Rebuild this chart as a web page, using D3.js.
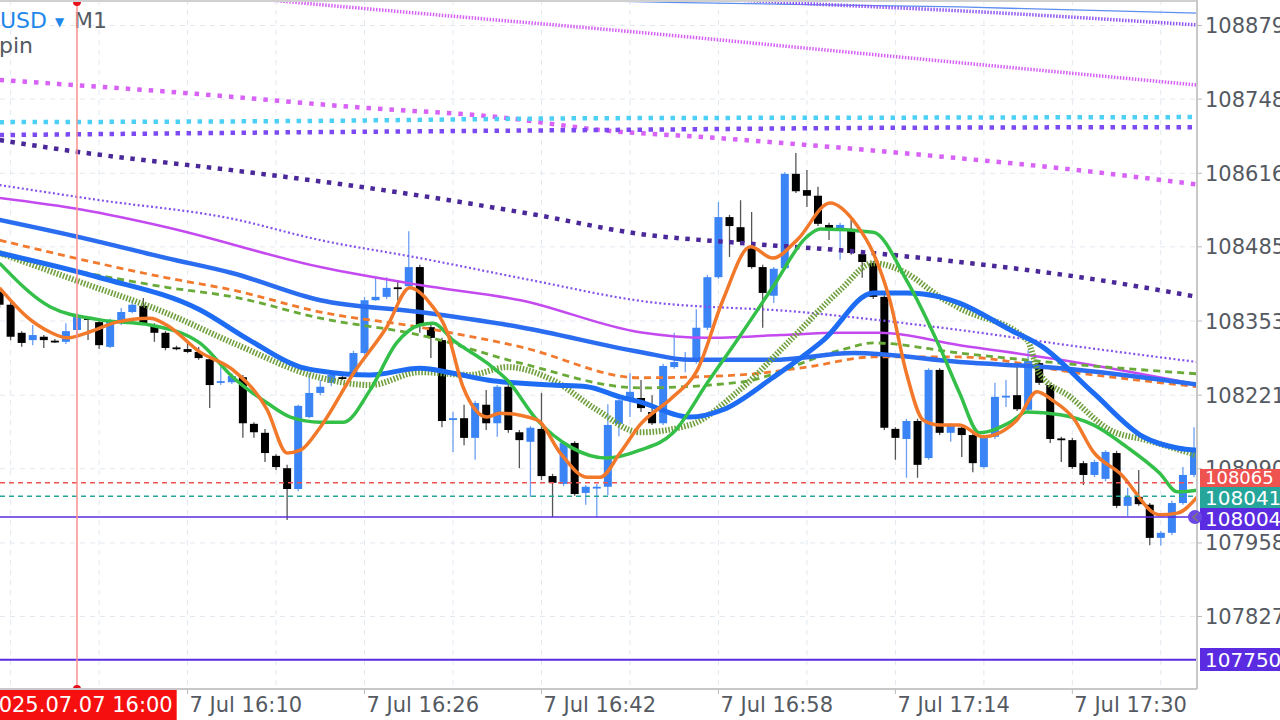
<!DOCTYPE html>
<html><head><meta charset="utf-8">
<script src="https://cdn.jsdelivr.net/npm/d3@7"></script>
<style>html,body{margin:0;padding:0;background:#fff;overflow:hidden}svg{display:block;font-family:"DejaVu Sans",sans-serif}</style>
</head><body><svg id="c" width="1280" height="720"></svg>
<script>
// ---- data ----
const firstMinute = -7; // minutes relative to 2025.07.07 16:00
const openP  = [108405,108382,108332,108319,108325,108318,108316,108337,108358,108351,108307,108349,108369,108380,108346,108332,108306,108303,108298,108285,108243,108244,108253,108170,108154,108113,108091,108054,108182,108225,108243,108253,108257,108296,108390,108396,108413,108415,108449,108342,108319,108179,108180,108145,108204,108171,108236,108155,108138,108161,108077,108063,108136,108047,108056,108058,108170,108212,108216,108191,108171,108271,108282,108280,108341,108431,108538,108520,108483,108449,108398,108447,108615,108586,108576,108524,108515,108517,108472,108456,108396,108161,108143,108175,108109,108266,108154,108163,108150,108093,108147,108218,108221,108195,108278,108239,108144,108141,108100,108079,108072,108118,108024,108040,108026,107967,107976,108029,108079];
const highP  = [108412,108387,108335,108346,108328,108321,108349,108367,108360,108355,108357,108376,108390,108394,108349,108335,108309,108314,108307,108289,108271,108260,108257,108173,108161,108116,108097,108204,108260,108248,108262,108257,108300,108396,108430,108431,108426,108513,108453,108346,108323,108191,108204,108211,108230,108239,108239,108159,108166,108225,108081,108139,108139,108061,108063,108205,108216,108260,108248,108221,108277,108332,108298,108374,108435,108565,108542,108568,108547,108453,108449,108618,108652,108622,108592,108528,108528,108533,108476,108460,108399,108164,108179,108179,108269,108269,108171,108166,108154,108150,108243,108248,108271,108301,108282,108243,108147,108145,108104,108106,108123,108122,108056,108088,108029,107979,108033,108093,108164];
const lowP   = [108376,108319,108307,108310,108305,108314,108312,108323,108319,108303,108305,108346,108367,108346,108316,108301,108301,108296,108284,108198,108239,108241,108145,108145,108102,108088,107999,108050,108180,108221,108237,108248,108253,108293,108389,108392,108390,108412,108332,108287,108164,108120,108132,108106,108159,108147,108154,108091,108040,108070,108004,108059,108042,108026,108004,108043,108148,108182,108191,108168,108168,108268,108262,108277,108337,108428,108467,108490,108446,108341,108385,108444,108581,108556,108522,108497,108462,108471,108430,108392,108159,108106,108074,108074,108106,108150,108138,108111,108084,108090,108143,108200,108193,108191,108239,108136,108102,108090,108061,108075,108068,108020,108006,108024,107954,107953,107972,108026,108075];
const closeP = [108382,108325,108314,108328,108319,108317,108335,108360,108355,108310,108353,108369,108382,108349,108332,108305,108304,108298,108287,108239,108246,108255,108171,108155,108118,108093,108054,108202,108225,108236,108257,108252,108296,108390,108396,108412,108411,108449,108346,108323,108175,108180,108145,108207,108171,108236,108159,108141,108163,108077,108065,108136,108045,108058,108058,108168,108212,108227,108198,108171,108273,108280,108287,108341,108431,108538,108522,108494,108449,108403,108446,108615,108584,108576,108526,108515,108524,108474,108458,108396,108163,108145,108175,108097,108266,108154,108168,108150,108100,108147,108218,108220,108196,108282,108243,108143,108142,108093,108079,108102,108120,108024,108040,108027,107967,107976,108029,108079,108127];

// indicator lines: [minute, price]
const lineBlueThin   = [[40,108926],[53.5,108920],[79.8,108912],[101.3,108901]];
const lineVioletFine = [[56.3,108928],[63.9,108920],[81.9,108903],[101.3,108880]];
const lineMagentaFine= [[13.8,108931],[20.4,108919],[33.7,108896],[47.3,108873],[74.3,108823],[101.3,108773]];
const lineMagentaDot = [[-7,108782],[9.7,108759],[26.3,108732],[38.1,108716],[47.3,108693],[57.7,108679],[68.1,108663],[78.5,108645],[88.9,108625],[101.3,108596]];
const lineCyanDot    = [[-7,108707],[20.2,108709],[47.3,108714],[74.4,108715],[101.3,108716]];
const lineVioletDot  = [[-7,108684],[20.2,108689],[47.3,108693],[74.4,108697],[101.3,108698]];
const lineIndigoDot  = [[-7,108675],[0.1,108654],[13.8,108622],[27.7,108586],[41.5,108542],[50.9,108508],[59.9,108492],[69,108479],[79.8,108458],[90.7,108431],[101.3,108396]];
const linePurpleFine = [[-7,108595],[2.1,108568],[13.8,108536],[22,108497],[31,108465],[41,108426],[50.9,108389],[65.4,108369],[79.8,108337],[90.7,108307],[101.3,108280]];
const lineMagenta    = [[-7,108572],[0.5,108551],[8.1,108520],[22,108449],[31,108417],[40.1,108390],[50.9,108333],[57,108323],[63.6,108328],[69,108332],[72.6,108332],[79.8,108310],[88.9,108284],[101.3,108240]];
const lineBlueSlow   = [[-7,108533],[0.5,108501],[8.1,108465],[14.1,108438],[22,108390],[31,108369],[40.1,108342],[50.9,108298],[55.4,108284],[62.9,108284],[70.2,108296],[79.8,108280],[88.9,108269],[101.3,108240]];
const lineOrangeDash = [[-7,108497],[0.5,108462],[8.1,108430],[14.1,108408],[22,108369],[31,108342],[40.1,108307],[50.9,108252],[59.9,108257],[66,108271],[72,108289],[79.8,108289],[90.7,108260],[101.3,108236]];
const lineGreenDash  = [[-7,108471],[0.5,108440],[8.1,108413],[14.1,108396],[22,108358],[31,108328],[40.1,108278],[50.9,108234],[59.9,108244],[69,108301],[72,108314],[79.8,108296],[88.9,108278],[101.3,108259]];
const lineGreenRib   = [[-7,108474],[0.5,108421],[8.1,108367],[14.1,108314],[22,108252],[26.5,108239],[31,108262],[35.5,108257],[38.9,108271],[43,108248],[47,108195],[50.9,108155],[55.4,108168],[59.9,108230],[64.5,108319],[69,108408],[72,108456],[75,108438],[78,108396],[79.8,108376],[85.9,108319],[87,108260],[89.8,108218],[93.4,108159],[96.7,108141],[101.3,108114]];
const lineBlueFast   = [[-7,108474],[2.1,108430],[11.1,108373],[15.6,108319],[20.2,108271],[22,108264],[26.5,108257],[31,108269],[34,108260],[37.1,108248],[43,108239],[46.1,108236],[49.1,108218],[50.9,108209],[55.4,108182],[58.4,108195],[62.9,108252],[67.5,108319],[72,108403],[75,108403],[78,108396],[79.8,108385],[84.4,108337],[87.3,108307],[91.9,108225],[96.4,108147],[99.5,108127],[101.3,108123]];
const lineGreen      = [[-7,108456],[-2.4,108378],[2.1,108355],[6.6,108346],[11.1,108314],[14.1,108253],[17.2,108207],[19.3,108182],[22,108173],[24.1,108173],[26.5,108230],[28.9,108314],[31,108346],[32.2,108349],[34,108319],[37.1,108278],[38.9,108248],[41.6,108177],[44.6,108129],[47.9,108109],[50.9,108123],[53.9,108154],[57,108243],[59.9,108325],[62.9,108413],[66,108503],[67.2,108517],[72,108511],[75,108426],[78,108307],[79.8,108225],[81.6,108154],[84.4,108173],[85.9,108191],[88.9,108186],[91.9,108168],[94.9,108129],[97.9,108082],[99.5,108049],[101.3,108052]];
const lineOrange     = [[-7,108412],[-4.5,108360],[-2.4,108333],[-0.9,108323],[0.9,108332],[3.6,108351],[6.6,108358],[8.1,108346],[11.1,108298],[14.1,108266],[17.2,108195],[19,108118],[20.2,108123],[22,108164],[25,108260],[28,108342],[30.1,108412],[31.9,108385],[33.5,108332],[34.9,108236],[37.1,108182],[38.2,108189],[41.6,108177],[43.7,108118],[46.1,108075],[47.3,108075],[49.1,108118],[50.9,108168],[53.9,108218],[56.1,108266],[58.4,108390],[60.9,108485],[62.9,108465],[65.1,108497],[68.1,108563],[70.5,108524],[72,108474],[73.5,108390],[75,108260],[76.5,108177],[78,108168],[79.8,108168],[81.9,108147],[85,108177],[86.8,108227],[88.2,108212],[90.1,108180],[91.9,108120],[94.3,108082],[97.9,108008],[99.5,108011],[101.3,108040]];

const yTickValues = [108879,108748,108616,108485,108353,108221,108090,107958,107827];
const xTickMinutes = [10,26,42,58,74,90];
const xTickLabels = ["7 Jul 16:10","7 Jul 16:26","7 Jul 16:42","7 Jul 16:58","7 Jul 17:14","7 Jul 17:30"];
const gridMinutes = [-6,2,10,18,26,34,42,50,58,66,74,82,90,98];
const levelValues = [108065,108041,108004,107750];
const levelLabels = ["108065","108041","108004","107750"];
const cursorMinute = 0;
const cursorLabel = "2025.07.07 16:00";

// ---- drawing ----
const W=1280,H=720, PR=1197, PB=689;
const svg=d3.select("#c");
const x=d3.scaleLinear().domain([-6.96,101.27]).range([0,PR]);
const y=d3.scaleLinear().domain([107698,108924.4]).range([PB,0]);

svg.append("defs").append("clipPath").attr("id","plot").append("rect").attr("x",0).attr("y",0).attr("width",PR).attr("height",PB);

const grid=svg.append("g").attr("stroke","#e2e8f0").attr("stroke-dasharray","5,5").attr("stroke-width",1);
grid.selectAll("line.v").data(gridMinutes).join("line").attr("x1",d=>x(d)).attr("x2",d=>x(d)).attr("y1",0).attr("y2",PB);
grid.selectAll("line.h").data(yTickValues).join("line").attr("x1",0).attr("x2",PR).attr("y1",d=>y(d)).attr("y2",d=>y(d));

const plot=svg.append("g").attr("clip-path","url(#plot)");

// title
svg.append("text").attr("x",47).attr("y",28).attr("font-size",22).attr("text-anchor","end").attr("fill","#1f86ea").text("EURUSD");
svg.append("text").attr("x",55).attr("y",26).attr("font-size",12).attr("fill","#1f86ea").text("▼");
svg.append("text").attr("x",74).attr("y",28).attr("font-size",22).attr("fill","#555a62").text("M1");
svg.append("text").attr("x",-1).attr("y",53).attr("font-size",22).attr("fill","#555a62").text("pin");

// candles
const candles=d3.range(openP.length).map(i=>({m:firstMinute+i,o:openP[i],h:highP[i],l:lowP[i],c:closeP[i]}));
const cg=plot.append("g");
cg.selectAll("line").data(candles).join("line")
  .attr("x1",d=>x(d.m)).attr("x2",d=>x(d.m)).attr("y1",d=>y(d.h)).attr("y2",d=>y(d.l))
  .attr("stroke",d=>d.c>d.o?"#6c9ff2":"#555").attr("stroke-width",1.3);
cg.selectAll("rect").data(candles).join("rect")
  .attr("x",d=>x(d.m)-4).attr("width",8)
  .attr("y",d=>Math.min(y(d.o),y(d.c)))
  .attr("height",d=>Math.max(1.8,Math.abs(y(d.o)-y(d.c))))
  .attr("fill",d=>d.c>d.o?"#3b84f5":"#000");

// lines
const lineGen=d3.line().x(d=>x(d[0])).y(d=>y(d[1])).curve(d3.curveMonotoneX);
function drawLine(data,color,width,dash){
  const p=plot.append("path").datum(data).attr("d",lineGen).attr("fill","none")
    .attr("stroke",color).attr("stroke-width",width).attr("stroke-linejoin","round");
  if(dash) p.attr("stroke-dasharray",dash);
}
drawLine(lineBlueThin,"#5d8ef0",1.3);
drawLine(lineVioletFine,"#9356f2",3.5,"1.5,1.5");
drawLine(lineMagentaFine,"#d65ff5",3.5,"1.5,1.5");
drawLine(lineMagentaDot,"#d862f6",4.5,"4.5,7");
drawLine(lineCyanDot,"#4dd0f6",4.5,"4.5,6.5");
drawLine(lineVioletDot,"#7c4af2",4.5,"4.5,6.5");
drawLine(lineIndigoDot,"#4a2899",4.5,"4.5,6.5");
drawLine(linePurpleFine,"#8552ec",2.2,"2,2.5");
drawLine(lineMagenta,"#c44af0",2.5);
drawLine(lineOrangeDash,"#f27a2e",2.8,"7,5");
drawLine(lineGreenDash,"#69aa38",2.8,"7,5");
drawLine(lineBlueSlow,"#2b6df0",4.5);
drawLine(lineGreenRib,"#6f9f3c",6,"1.6,1.6");
drawLine(lineBlueFast,"#1d6cf3",5);
drawLine(lineGreen,"#33bf48",3.5);
drawLine(lineOrange,"#f2782a",3.5);

// level lines
const lvl=plot.append("g");
lvl.append("line").attr("x1",0).attr("x2",PR).attr("y1",y(levelValues[0])).attr("y2",y(levelValues[0])).attr("stroke","#ef5350").attr("stroke-width",1.5).attr("stroke-dasharray","5,4");
lvl.append("line").attr("x1",0).attr("x2",PR).attr("y1",y(levelValues[1])).attr("y2",y(levelValues[1])).attr("stroke","#26a69a").attr("stroke-width",1.5).attr("stroke-dasharray","5,4");
lvl.append("line").attr("x1",0).attr("x2",PR).attr("y1",y(levelValues[2])).attr("y2",y(levelValues[2])).attr("stroke","#5b2be2").attr("stroke-width",1.5);
lvl.append("line").attr("x1",0).attr("x2",PR).attr("y1",y(levelValues[3])).attr("y2",y(levelValues[3])).attr("stroke","#5b2be2").attr("stroke-width",2);

// cursor line
svg.append("line").attr("x1",x(cursorMinute)).attr("x2",x(cursorMinute)).attr("y1",0).attr("y2",PB).attr("stroke","#ff8f8f").attr("stroke-width",1.5);
svg.append("circle").attr("cx",x(cursorMinute)).attr("cy",2).attr("r",4).attr("fill","#e8101a");
svg.append("circle").attr("cx",x(cursorMinute)).attr("cy",PB).attr("r",4).attr("fill","#e8101a");

// frame
svg.append("line").attr("x1",0).attr("x2",PR).attr("y1",1).attr("y2",1).attr("stroke","#d0d0d0").attr("stroke-width",2);
svg.append("line").attr("x1",PR).attr("x2",PR).attr("y1",0).attr("y2",PB).attr("stroke","#c8c8c8").attr("stroke-width",2);
svg.append("line").attr("x1",0).attr("x2",PR).attr("y1",PB).attr("y2",PB).attr("stroke","#c8c8c8").attr("stroke-width",2);

// y axis
const ya=svg.append("g");
ya.selectAll("line").data(yTickValues).join("line").attr("x1",PR).attr("x2",PR+5).attr("y1",d=>y(d)).attr("y2",d=>y(d)).attr("stroke","#bbb");
ya.selectAll("text").data(yTickValues).join("text").attr("x",PR+8).attr("y",d=>y(d)).attr("dy","0.36em")
  .attr("font-size",21).attr("fill","#555a62").text(d=>d3.format("d")(d));

// x axis
const xa=svg.append("g");
xa.selectAll("line").data(xTickMinutes).join("line").attr("x1",d=>x(d)).attr("x2",d=>x(d)).attr("y1",PB).attr("y2",PB+5).attr("stroke","#bbb");
xa.selectAll("text").data(xTickMinutes).join("text").attr("x",d=>x(d)+2).attr("y",712)
  .attr("font-size",21).attr("fill","#555a62").text((d,i)=>xTickLabels[i]);

// cursor label
const cl=svg.append("g");
const clText=cl.append("text").attr("x",x(cursorMinute)+2).attr("y",712).attr("text-anchor","middle").attr("font-size",21).attr("fill","#fff").text(cursorLabel);
const bb=clText.node().getBBox();
cl.insert("rect","text").attr("x",bb.x-4).attr("y",690).attr("width",bb.width+8).attr("height",30).attr("fill","#f50f0f");

// level labels (stacked boxes, as in the reference)
const levelColors=["#ef5350","#26a69a","#5b2be2","#5b2be2"];
const boxTop=[469,487,508,648];
const boxH=[18,21,22,23];
levelValues.forEach((v,i)=>{
  svg.append("rect").attr("x",PR+3).attr("y",boxTop[i]).attr("width",W-PR).attr("height",boxH[i]).attr("fill",levelColors[i]);
  svg.append("text").attr("x",PR+8).attr("y",boxTop[i]+boxH[i]/2).attr("dy","0.36em").attr("font-size",i===0?18:20).attr("fill","#fff").text(levelLabels[i]);
});
// marker
svg.append("circle").attr("cx",PR-2).attr("cy",y(levelValues[2])).attr("r",7).attr("fill","#6b47e6");
svg.append("path").attr("d",`M${PR+1},${y(levelValues[2])-4}L${PR-4},${y(levelValues[2])}L${PR+1},${y(levelValues[2])+4}`).attr("fill","none").attr("stroke","#777").attr("stroke-width",1.5);
</script></body></html>
